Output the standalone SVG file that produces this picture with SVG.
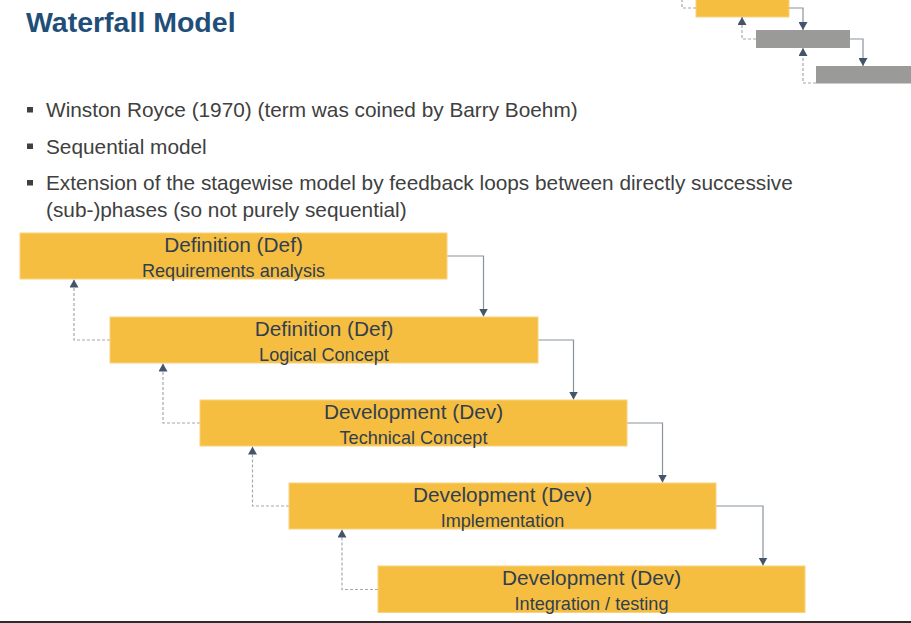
<svg xmlns="http://www.w3.org/2000/svg" width="911" height="623" viewBox="0 0 911 623">
  <style>
    .title { font-family: "Liberation Sans", Arial, sans-serif; font-weight: bold; font-size: 28.5px; fill: #1F4E79; }
    .bullet { font-family: "Liberation Sans", Arial, sans-serif; font-size: 20.8px; fill: #404040; }
    .sq { fill: #404040; }
    .box { fill: #F5BE41; stroke: #F8D27F; stroke-width: 1; }
    .gbox { fill: #9A9A98; }
    .h1 { font-family: "Liberation Sans", Arial, sans-serif; font-size: 20.8px; fill: #323E4F; text-anchor: middle; }
    .h2 { font-family: "Liberation Sans", Arial, sans-serif; font-size: 18.1px; fill: #323E4F; text-anchor: middle; }
    .solid { fill: none; stroke: #8A939C; stroke-width: 1.2; marker-end: url(#ah); }
    .dash { fill: none; stroke: #A6A8AB; stroke-width: 1.2; stroke-dasharray: 3 2; marker-end: url(#ah); }
    .dashn { fill: none; stroke: #A6A8AB; stroke-width: 1.2; stroke-dasharray: 3 2; }
  </style>
  <defs>
    <marker id="ah" viewBox="0 0 8 9" refX="8" refY="4.5" markerWidth="8" markerHeight="9" orient="auto" markerUnits="userSpaceOnUse">
      <path d="M0,0 L8,4.5 L0,9 z" fill="#44546A"/>
    </marker>
  </defs>
  <rect x="0" y="0" width="911" height="623" fill="#FFFFFF"/>

  <g id="header">
    <text class="title" x="26" y="31.5">Waterfall Model</text>
  </g>

  <g id="bullets">
    <rect class="sq" x="27" y="107" width="6" height="5.5"/>
    <text class="bullet" x="46" y="117">Winston Royce (1970) (term was coined by Barry Boehm)</text>
    <rect class="sq" x="27" y="143.5" width="6" height="5.5"/>
    <text class="bullet" x="46" y="153.7">Sequential model</text>
    <rect class="sq" x="27" y="180" width="6" height="5.5"/>
    <text class="bullet" x="46" y="190.3">Extension of the stagewise model by feedback loops between directly successive</text>
    <text class="bullet" x="46" y="217">(sub-)phases (so not purely sequential)</text>
  </g>

  <g id="icon">
    <rect class="box" x="696" y="-5" width="93" height="22"/>
    <rect class="gbox" x="756" y="30" width="94" height="18"/>
    <rect class="gbox" x="816" y="66" width="95" height="17.5"/>
    <path class="solid" d="M789,8 H803 V30"/>
    <path class="solid" d="M850,39 H863 V66"/>
    <path class="dash" d="M756,39 H742 V17"/>
    <path class="dash" d="M816,83 H803 V48"/>
    <path class="dashn" d="M696,8 H682 V0"/>
  </g>

  <g id="connectors">
    <path class="solid" d="M447,256 H483.5 V316.5"/>
    <path class="solid" d="M538,340 H573.5 V399.5"/>
    <path class="solid" d="M627,423 H662.5 V482.5"/>
    <path class="solid" d="M716,506 H763 V565.5"/>
    <path class="dash" d="M110,340 H74 V279.5"/>
    <path class="dash" d="M200,423 H163 V363.5"/>
    <path class="dash" d="M289,506 H252.5 V446.5"/>
    <path class="dash" d="M378,589.5 H342 V529.5"/>
  </g>

  <g id="node-req">
    <rect class="box" x="20" y="233" width="427" height="46"/>
    <text class="h1" x="233.5" y="252">Definition (Def)</text>
    <text class="h2" x="233.5" y="276.5">Requirements analysis</text>
  </g>
  <g id="node-logical">
    <rect class="box" x="110" y="317" width="428" height="46"/>
    <text class="h1" x="324" y="336">Definition (Def)</text>
    <text class="h2" x="324" y="360.5">Logical Concept</text>
  </g>
  <g id="node-technical">
    <rect class="box" x="200" y="400" width="427" height="46"/>
    <text class="h1" x="413.5" y="419">Development (Dev)</text>
    <text class="h2" x="413.5" y="443.5">Technical Concept</text>
  </g>
  <g id="node-impl">
    <rect class="box" x="289" y="483" width="427" height="46"/>
    <text class="h1" x="502.5" y="502">Development (Dev)</text>
    <text class="h2" x="502.5" y="526.5">Implementation</text>
  </g>
  <g id="node-integration">
    <rect class="box" x="378" y="566" width="427" height="46.5"/>
    <text class="h1" x="591.5" y="585">Development (Dev)</text>
    <text class="h2" x="591.5" y="610">Integration / testing</text>
  </g>

  <rect x="0" y="621" width="911" height="2" fill="#2B2B2B"/>
</svg>
